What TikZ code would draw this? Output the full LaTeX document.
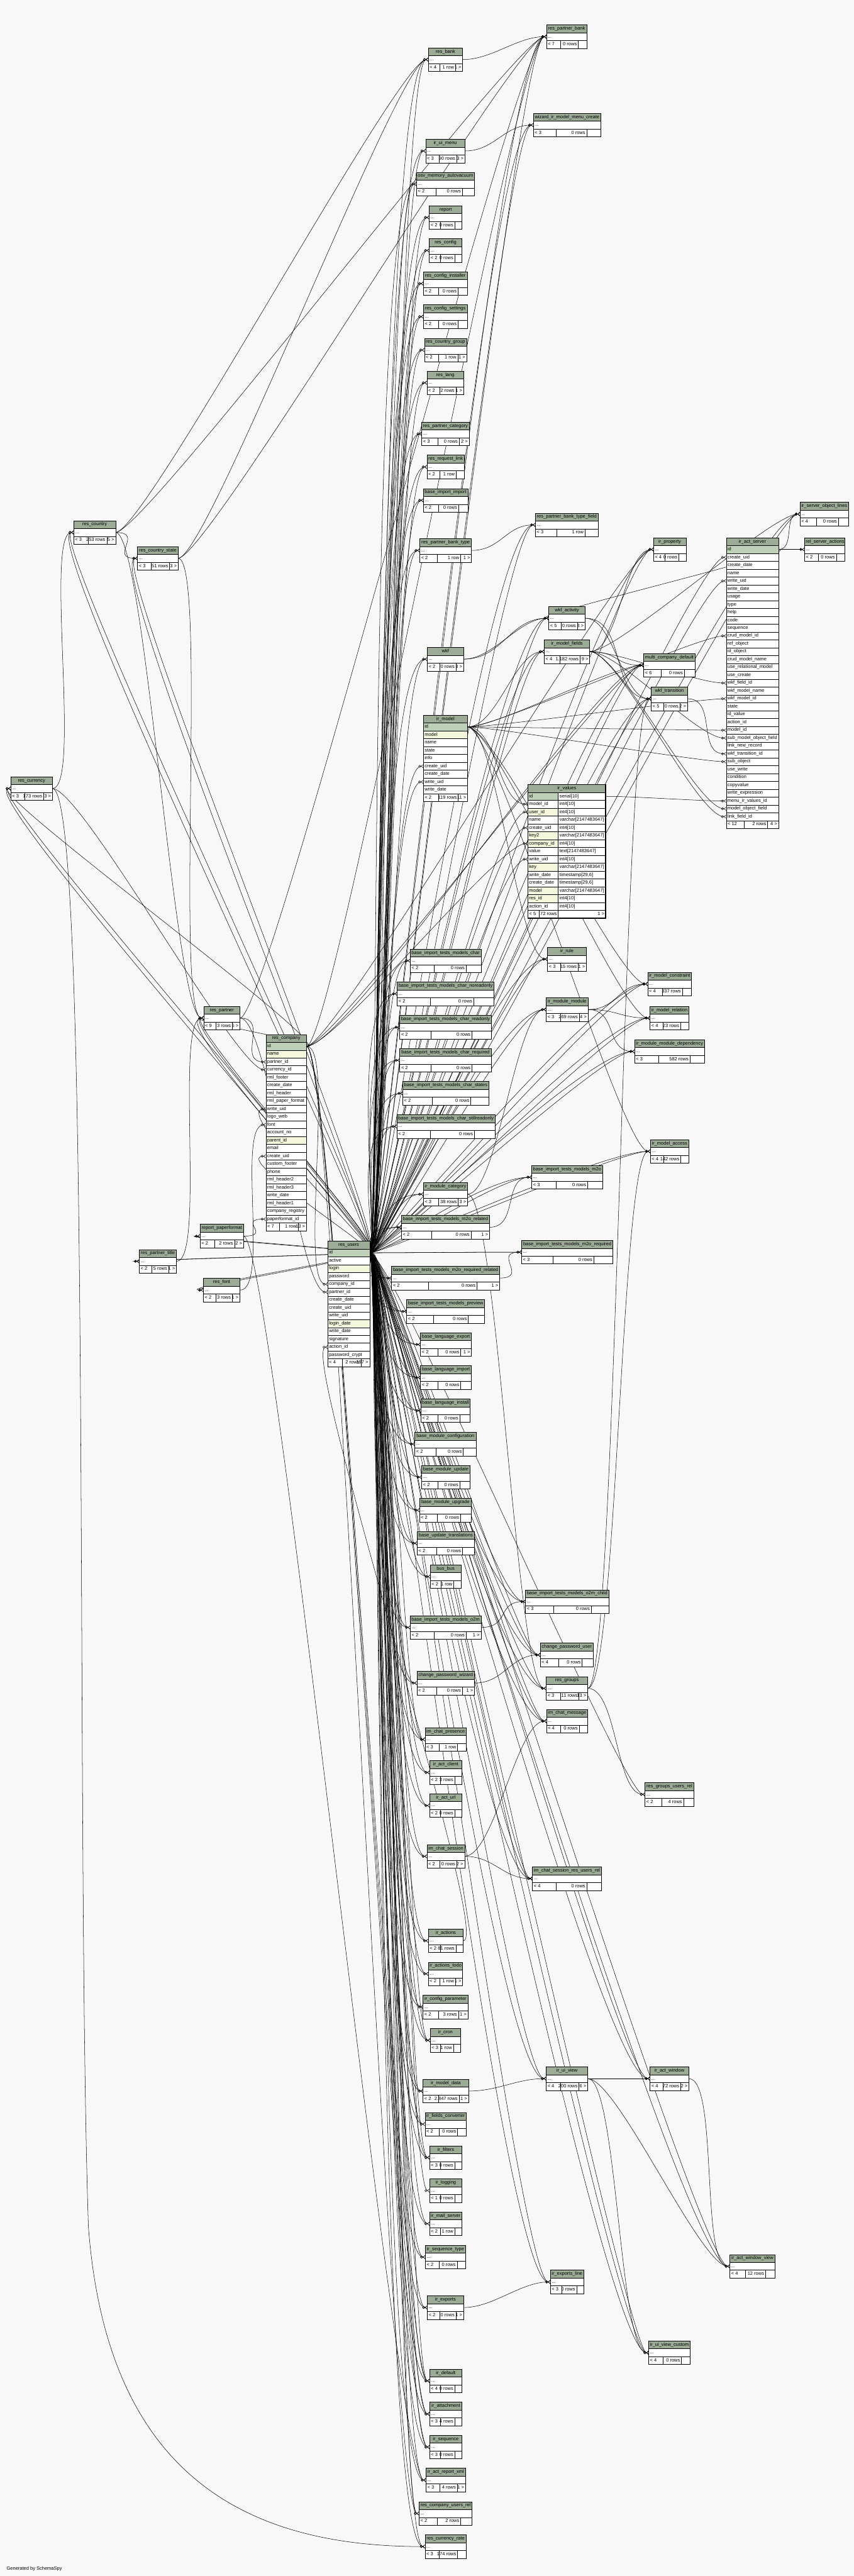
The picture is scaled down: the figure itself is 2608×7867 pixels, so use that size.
\documentclass[tikz,border=0pt]{standalone}
\usepackage{fontspec}
\setmainfont{Liberation Sans}
\usetikzlibrary{arrows.meta,positioning}
\definecolor{canvasgrey}{RGB}{248,248,248}
\definecolor{headgreen}{RGB}{155,171,150}
\definecolor{pkgreen}{RGB}{190,209,184}
\definecolor{ixyellow}{RGB}{245,247,220}
\pgfdeclarelayer{canvas}
\pgfdeclarelayer{edges}
\pgfsetlayers{canvas,edges,main}
\newcommand{\tabfont}{\fontsize{7.2}{8.6}\selectfont}

% footer row: name, x, y, width, parents, rows, children
\newcommand{\dbfoot}[7]{%
  \pgfmathsetmacro{\tbf}{#4*0.5-4}%
  \pgfmathsetmacro{\tba}{max(28,0.34*#4)}%
  \pgfmathsetmacro{\tbc}{max(22,0.21*#4)}%
  \node[trow, text width=\tbf pt, anchor=north west] (#1-f) at (#2,#3) {};
  \draw[tline] ([xshift=\tba*0.5pt]#1-f.north west) -- ([xshift=\tba*0.5pt]#1-f.south west);
  \draw[tline] ([xshift=-\tbc*0.5pt]#1-f.north east) -- ([xshift=-\tbc*0.5pt]#1-f.south east);
  \node[tcell, anchor=west] (#1-fl) at (#1-f.west) {#5};
  \node[tcell, anchor=east] (#1-fm) at ([xshift=-\tbc*0.5pt]#1-f.east) {#6};
  \node[tcell, anchor=east] (#1-fr) at (#1-f.east) {#7};
}
% collapsed table: name, x, y, width, parents, rows, children
\newcommand{\dbtable}[7]{%
  \pgfmathsetmacro{\tbw}{#4*0.5-4}%
  \node[thead, text width=\tbw pt, anchor=north west] (#1) at (#2,#3) {\detokenize{#1}};
  \node[trow, text width=\tbw pt, below=0pt of #1] (#1-r) {...};
  \dbfoot{#1}{#2}{#3+48}{#4}{#5}{#6}{#7}%
}
% table with columns: name, x, y, width, columns, count, parents, rows, children
\newcommand{\dbfull}[9]{%
  \pgfmathsetmacro{\tbw}{#4*0.5-4}%
  \node[thead, text width=\tbw pt, anchor=north west] (#1) at (#2,#3) {\detokenize{#1}};
  \foreach \col/\sty [count=\k] in {#5}{%
    \node[\sty, text width=\tbw pt, anchor=north west] (#1-\col) at (#2,#3+24*\k) {\detokenize\expandafter{\col}};}
  \dbfoot{#1}{#2}{#3+24*#6+24}{#4}{#7}{#8}{#9}%
}

\begin{document}
\begin{tikzpicture}[
x=0.5pt, y=-0.5pt,
thead/.style={draw, fill=headgreen, line width=0.5pt, inner xsep=2pt, inner ysep=0pt, minimum height=12pt, outer sep=0pt, align=center, text height=5.2pt, text depth=1.6pt, font=\tabfont},
trow/.style={thead, fill=white, align=left},
pkrow/.style={trow, fill=pkgreen},
ixrow/.style={trow, fill=ixyellow},
tcell/.style={inner xsep=2pt, inner ysep=0pt, text height=5.2pt, text depth=1.6pt, font=\tabfont},
tline/.style={line width=0.5pt},
fk/.style={line width=0.5pt, -{Circle[open,length=4pt] Straight Barb[reversed,length=3pt,width=5pt]}},
rel/.style={to path={.. controls +(#1,0) and +(-#1,0) .. (\tikztotarget)}},
rel/.default=90
]
\useasboundingbox (0,0) rectangle (2608,7867);
\begin{pgfonlayer}{canvas}
\fill[canvasgrey] (0,0) rectangle (2608,7867);
\end{pgfonlayer}

\dbtable{res_bank}{1308}{146}{105}{< 4}{1 row}{1 >}
\dbtable{ir_ui_menu}{1300}{425}{120}{< 3}{90 rows}{3 >}
\dbtable{osv_memory_autovacuum}{1272}{526}{177}{< 2}{0 rows}{}
\dbtable{report}{1311}{628}{100}{< 2}{0 rows}{}
\dbtable{res_config}{1311}{729}{100}{< 2}{0 rows}{}
\dbtable{res_config_installer}{1293}{830}{134}{< 2}{0 rows}{}
\dbtable{res_config_settings}{1293}{931}{134}{< 2}{0 rows}{}
\dbtable{res_country_group}{1296}{1033}{129}{< 2}{1 row}{1 >}
\dbtable{res_lang}{1304}{1133}{112}{< 2}{2 rows}{1 >}
\dbtable{res_partner_category}{1288}{1289}{145}{< 3}{0 rows}{2 >}
\dbtable{res_request_link}{1304}{1390}{113}{< 2}{1 row}{}
\dbtable{base_import_import}{1293}{1492}{136}{< 2}{0 rows}{}
\dbtable{res_partner_bank_type}{1282}{1645}{158}{< 2}{1 row}{1 >}
\dbtable{wkf}{1305}{1977}{111}{< 2}{0 rows}{3 >}
\dbfull{ir_model}{1293}{2184}{135}{id/pkrow, model/ixrow, name/trow, state/trow, info/trow, create_uid/trow, create_date/trow, write_uid/trow, write_date/trow}{9}{< 2}{119 rows}{11 >}
\dbtable{base_import_tests_models_char}{1253}{2898}{216}{< 2}{0 rows}{}
\dbtable{base_import_tests_models_char_noreadonly}{1213}{2999}{296}{< 2}{0 rows}{}
\dbtable{base_import_tests_models_char_readonly}{1221}{3101}{279}{< 2}{0 rows}{}
\dbtable{base_import_tests_models_char_required}{1221}{3202}{279}{< 2}{0 rows}{}
\dbtable{base_import_tests_models_char_states}{1230}{3303}{263}{< 2}{0 rows}{}
\dbtable{base_import_tests_models_char_stillreadonly}{1212}{3404}{300}{< 2}{0 rows}{}
\dbtable{ir_module_category}{1293}{3611}{135}{< 3}{38 rows}{3 >}
\dbtable{base_import_tests_models_m2o_related}{1226}{3712}{269}{< 2}{0 rows}{1 >}
\dbtable{base_import_tests_models_m2o_required_related}{1196}{3867}{330}{< 2}{0 rows}{1 >}
\dbtable{base_import_tests_models_preview}{1242}{3969}{238}{< 2}{0 rows}{}
\dbtable{base_language_export}{1284}{4070}{156}{< 2}{0 rows}{1 >}
\dbtable{base_language_import}{1284}{4171}{156}{< 2}{0 rows}{}
\dbtable{base_language_install}{1285}{4272}{151}{< 2}{0 rows}{}
\dbtable{base_module_configuration}{1267}{4374}{187}{< 2}{0 rows}{}
\dbtable{base_module_update}{1288}{4475}{147}{< 2}{0 rows}{}
\dbtable{base_module_upgrade}{1281}{4576}{159}{< 2}{0 rows}{}
\dbtable{base_update_translations}{1274}{4677}{175}{< 2}{0 rows}{}
\dbtable{bus_bus}{1314}{4779}{94}{< 2}{1 row}{}
\dbtable{base_import_tests_models_o2m}{1253}{4934}{216}{< 2}{0 rows}{1 >}
\dbtable{change_password_wizard}{1273}{5104}{176}{< 2}{0 rows}{1 >}
\dbtable{im_chat_presence}{1298}{5276}{126}{< 3}{1 row}{}
\dbtable{ir_act_client}{1312}{5377}{99}{< 2}{3 rows}{}
\dbtable{ir_act_url}{1312}{5478}{99}{< 2}{0 rows}{}
\dbtable{im_chat_session}{1304}{5633}{115}{< 2}{0 rows}{2 >}
\dbtable{ir_actions}{1308}{5891}{107}{< 2}{81 rows}{}
\dbtable{ir_actions_todo}{1308}{5992}{105}{< 2}{1 row}{1 >}
\dbtable{ir_config_parameter}{1292}{6093}{137}{< 2}{3 rows}{1 >}
\dbtable{ir_cron}{1314}{6195}{93}{< 3}{1 row}{}
\dbtable{ir_model_data}{1292}{6350}{139}{< 2}{2.847 rows}{1 >}
\dbtable{ir_fields_converter}{1298}{6451}{126}{< 2}{0 rows}{}
\dbtable{ir_filters}{1312}{6553}{99}{< 3}{0 rows}{}
\dbtable{ir_logging}{1312}{6654}{99}{< 1}{0 rows}{}
\dbtable{ir_mail_server}{1312}{6755}{99}{< 2}{1 row}{}
\dbtable{ir_sequence_type}{1299}{6857}{123}{< 2}{0 rows}{}
\dbtable{ir_exports}{1305}{7011}{111}{< 2}{0 rows}{1 >}
\dbtable{ir_default}{1312}{7235}{99}{< 4}{0 rows}{}
\dbtable{ir_attachment}{1312}{7336}{99}{< 3}{4 rows}{}
\dbtable{ir_sequence}{1312}{7437}{99}{< 3}{0 rows}{}
\dbtable{ir_act_report_xml}{1301}{7538}{121}{< 3}{4 rows}{1 >}
\dbtable{res_company_users_rel}{1280}{7640}{161}{< 2}{2 rows}{}
\dbtable{res_currency_rate}{1298}{7741}{126}{< 3}{174 rows}{}

\dbtable{res_partner_bank}{1669}{76}{123}{< 7}{0 rows}{}
\dbtable{wizard_ir_model_menu_create}{1629}{346}{206}{< 3}{0 rows}{}
\dbtable{res_partner_bank_type_field}{1635}{1567}{192}{< 3}{1 row}{}
\dbtable{wkf_activity}{1676}{1852}{111}{< 5}{0 rows}{3 >}
\dbtable{ir_model_fields}{1662}{1954}{139}{< 4}{1.182 rows}{9 >}
\dbtable{ir_rule}{1672}{2893}{119}{< 3}{15 rows}{1 >}
\dbtable{ir_module_module}{1668}{3047}{128}{< 3}{269 rows}{4 >}
\dbtable{base_import_tests_models_m2o}{1624}{3559}{216}{< 3}{0 rows}{}
\dbtable{base_import_tests_models_m2o_required}{1593}{3788}{279}{< 3}{0 rows}{}
\dbtable{base_import_tests_models_o2m_child}{1605}{4855}{254}{< 3}{0 rows}{}
\dbtable{change_password_user}{1650}{5018}{162}{< 4}{0 rows}{}
\dbtable{res_groups}{1668}{5120}{127}{< 3}{11 rows}{13 >}
\dbtable{im_chat_message}{1669}{5220}{126}{< 4}{0 rows}{}
\dbtable{im_chat_session_res_users_rel}{1626}{5701}{210}{< 4}{0 rows}{}
\dbtable{ir_ui_view}{1668}{6312}{127}{< 4}{200 rows}{6 >}
\dbtable{ir_exports_line}{1681}{6933}{102}{< 3}{0 rows}{}

\dbtable{ir_property}{1996}{1642}{99}{< 4}{0 rows}{}
\dbtable{multi_company_default}{1966}{1996}{157}{< 6}{0 rows}{}
\dbtable{wkf_transition}{1989}{2098}{111}{< 5}{0 rows}{2 >}
\dbtable{ir_model_constraint}{1978}{2969}{134}{< 4}{337 rows}{}
\dbtable{ir_model_relation}{1985}{3073}{119}{< 4}{23 rows}{}
\dbtable{ir_module_module_dependency}{1938}{3175}{214}{< 3}{582 rows}{}
\dbtable{ir_model_access}{1986}{3480}{118}{< 4}{142 rows}{}
\dbtable{res_groups_users_rel}{1970}{5444}{149}{< 2}{4 rows}{}
\dbtable{ir_act_window}{1985}{6312}{119}{< 4}{72 rows}{2 >}
\dbtable{ir_ui_view_custom}{1981}{7149}{127}{< 4}{0 rows}{}

\dbtable{ir_server_object_lines}{2443}{1534}{149}{< 4}{0 rows}{}
\dbfull{ir_act_server}{2218}{1642}{160}{id/pkrow, create_uid/trow, create_date/trow, name/trow, write_uid/trow, write_date/trow, usage/trow, type/trow, help/trow, code/trow, sequence/trow, crud_model_id/trow, ref_object/trow, id_object/trow, crud_model_name/trow, use_relational_model/trow, use_create/trow, wkf_field_id/trow, wkf_model_name/trow, wkf_model_id/trow, state/trow, id_value/trow, action_id/trow, model_id/trow, sub_model_object_field/trow, link_new_record/trow, wkf_transition_id/trow, sub_object/trow, use_write/trow, condition/trow, copyvalue/trow, write_expression/trow, menu_ir_values_id/trow, model_object_field/trow, link_field_id/trow}{35}{< 12}{2 rows}{4 >}
\dbtable{rel_server_actions}{2457}{1642}{123}{< 2}{0 rows}{}
\dbtable{ir_act_window_view}{2229}{6885}{138}{< 4}{12 rows}{}

\dbtable{res_country}{225}{1590}{128}{< 3}{253 rows}{5 >}
\dbtable{res_country_state}{420}{1669}{124}{< 3}{51 rows}{3 >}
\dbtable{res_currency}{33}{2372}{127}{< 3}{173 rows}{3 >}
\dbtable{res_partner}{622}{3073}{111}{< 9}{3 rows}{6 >}
\dbfull{res_company}{812}{3159}{124}{id/pkrow, name/ixrow, partner_id/trow, currency_id/trow, rml_footer/trow, create_date/trow, rml_header/trow, rml_paper_format/trow, write_uid/trow, logo_web/trow, font/trow, account_no/trow, parent_id/ixrow, email/trow, create_uid/trow, custom_footer/trow, phone/trow, rml_header2/trow, rml_header3/trow, write_date/trow, rml_header1/trow, company_registry/trow, paperformat_id/trow}{23}{< 7}{1 row}{13 >}
\dbtable{report_paperformat}{611}{3739}{133}{< 2}{2 rows}{2 >}
\dbtable{res_partner_title}{425}{3816}{114}{< 2}{5 rows}{1 >}
\dbtable{res_font}{621}{3904}{112}{< 2}{3 rows}{1 >}
\dbfull{res_users}{1001}{3790}{128}{id/pkrow, active/trow, login/ixrow, password/trow, company_id/trow, partner_id/trow, create_date/trow, create_uid/trow, write_uid/trow, login_date/ixrow, write_date/trow, signature/trow, action_id/trow, password_crypt/trow}{14}{< 4}{2 rows}{197 >}

\node[thead, text width=115pt, anchor=north west] (ir_values) at (1612,2396) {ir\_values};
\foreach \col/\typ/\sty [count=\k] in {id/serial[10]/pkrow, model_id/int4[10]/trow, user_id/int4[10]/ixrow, name/varchar[2147483647]/trow, create_uid/int4[10]/trow, key2/varchar[2147483647]/ixrow, company_id/int4[10]/ixrow, value/text[2147483647]/trow, write_uid/int4[10]/trow, key/varchar[2147483647]/ixrow, write_date/{timestamp[29,6]}/trow, create_date/{timestamp[29,6]}/trow, model/varchar[2147483647]/ixrow, res_id/int4[10]/ixrow, action_id/int4[10]/trow}{
  \node[\sty, text width=42.5pt, anchor=north west] (ir_values-\col) at (1612,2396+24*\k) {\detokenize\expandafter{\col}};
  \node[trow, text width=68.5pt, anchor=north west] (ir_values-\col-t) at (1705,2396+24*\k) {\typ};
}
\node[trow, text width=115pt, anchor=north west] (ir_values-f) at (1612,2780) {};
\draw[tline] (1646,2780) -- (1646,2804);
\draw[tline] (1705,2780) -- (1705,2804);
\node[tcell, anchor=west] (ir_values-fl) at (ir_values-f.west) {< 5};
\node[tcell, anchor=east] (ir_values-fm) at (1705,2792) {72 rows};
\node[tcell, anchor=east] (ir_values-fr) at (ir_values-f.east) {1 >};
\draw[line width=1.5pt] (ir_values.north west) rectangle (ir_values-f.south east);

\node[tcell, anchor=west] (credit) at (16,7845) {Generated by SchemaSpy};

\begin{pgfonlayer}{edges}
\foreach \tb in {res_bank, res_partner_bank, wizard_ir_model_menu_create, ir_ui_menu, osv_memory_autovacuum, report, res_config, res_config_installer, res_config_settings, res_country_group, res_lang, res_partner_category, res_request_link, base_import_import, res_partner_bank_type_field, res_partner_bank_type, ir_server_object_lines, ir_property, wkf_activity, ir_model_fields, wkf, multi_company_default, wkf_transition, ir_rule, base_import_tests_models_char, base_import_tests_models_char_noreadonly, base_import_tests_models_char_readonly, base_import_tests_models_char_required, base_import_tests_models_char_states, base_import_tests_models_char_stillreadonly, ir_model_constraint, ir_module_module, ir_model_relation, ir_module_module_dependency, ir_model_access, base_import_tests_models_m2o, ir_module_category, base_import_tests_models_m2o_related, base_import_tests_models_m2o_required, base_import_tests_models_m2o_required_related, base_import_tests_models_preview, base_language_export, base_language_import, base_language_install, base_module_configuration, base_module_update, base_module_upgrade, base_update_translations, bus_bus, base_import_tests_models_o2m_child, base_import_tests_models_o2m, change_password_user, change_password_wizard, res_groups, im_chat_message, im_chat_presence, ir_act_client, ir_act_url, im_chat_session, im_chat_session_res_users_rel, ir_actions, ir_actions_todo, ir_config_parameter, ir_cron, ir_ui_view, ir_act_window, ir_model_data, ir_fields_converter, ir_filters, ir_mail_server, ir_sequence_type, ir_exports_line, ir_act_window_view, ir_exports, ir_ui_view_custom, ir_default, ir_attachment, ir_sequence, ir_act_report_xml, res_currency_rate}{
  \draw[fk] (res_users-id.east) .. controls +(30,0) and +(-150,0) .. (\tb-r.west);
  \draw[fk] (res_users-id.east) .. controls +(50,0) and +(-100,0) .. (\tb-r.west);
}
\foreach \tb in {res_country, res_country_state, res_currency, res_partner, report_paperformat, res_partner_title, res_font}{
  \draw[fk] (res_users-id.east) .. controls +(60,0) and +(-120,0) .. (\tb-r.west);
  \draw[fk] (res_users-id.east) .. controls +(80,0) and +(-90,0) .. (\tb-r.west);
}
\foreach \tb in {ir_logging, res_groups_users_rel, res_company_users_rel, change_password_user, im_chat_message, im_chat_presence, im_chat_session_res_users_rel, ir_ui_view_custom, ir_cron, ir_filters, ir_default, res_partner}{
  \draw[fk] (res_users-id.east) .. controls +(70,0) and +(-70,0) .. (\tb-r.west);
}
\foreach \cl in {ir_model-create_uid, ir_model-write_uid, res_company-create_uid, res_company-write_uid, ir_act_server-create_uid, ir_act_server-write_uid, ir_values-user_id, ir_values-create_uid, ir_values-write_uid}{
  \draw[fk] (res_users-id.east) .. controls +(40,0) and +(-110,0) .. (\cl.west);
}
\draw[fk] (res_partner-r.east) to[rel] (res_partner_bank-r.west);
\draw[fk] (res_bank-r.east) to[rel] (res_partner_bank-r.west);
\draw[fk] (res_company-id.east) to[rel] (res_partner_bank-r.west);
\draw[fk] (res_country-r.east) to[rel] (res_partner_bank-r.west);
\draw[fk] (res_country_state-r.east) to[rel] (res_partner_bank-r.west);
\draw[fk] (res_country-r.east) to[rel] (res_bank-r.west);
\draw[fk] (res_country_state-r.east) to[rel] (res_bank-r.west);
\draw[fk] (ir_ui_menu-r.east) to[rel] (wizard_ir_model_menu_create-r.west);
\draw[fk] (res_partner_bank_type-r.east) to[rel] (res_partner_bank_type_field-r.west);
\draw[fk] (ir_act_server-id.east) to[rel=50] (ir_server_object_lines-r.west);
\draw[fk] (ir_model_fields-r.east) to[rel] (ir_server_object_lines-r.west);
\draw[fk] (ir_act_server-id.east) to[rel=40] (rel_server_actions-r.west);
\draw[fk] (ir_act_server-id.east) to[rel=60] (rel_server_actions-r.west);
\draw[fk] (res_company-id.east) to[rel] (ir_property-r.west);
\draw[fk] (ir_model_fields-r.east) to[rel] (ir_property-r.west);
\draw[fk] (wkf-r.east) to[rel] (wkf_activity-r.west);
\draw[fk] (wkf-r.east) to[rel=120] (wkf_activity-r.west);
\draw[fk] (ir_act_server-id.east) to[rel] (wkf_activity-r.west);
\draw[fk] (ir_model-id.east) to[rel] (ir_model_fields-r.west);
\draw[fk] (res_company-id.east) to[rel] (multi_company_default-r.west);
\draw[fk] (res_company-id.east) to[rel=130] (multi_company_default-r.west);
\draw[fk] (ir_model-id.east) to[rel] (multi_company_default-r.west);
\draw[fk] (ir_model_fields-r.east) to[rel] (multi_company_default-r.west);
\draw[fk] (wkf_activity-r.east) to[rel] (wkf_transition-r.west);
\draw[fk] (wkf_activity-r.east) to[rel=130] (wkf_transition-r.west);
\draw[fk] (res_groups-r.east) to[rel] (wkf_transition-r.west);
\draw[fk] (ir_model-id.east) to[rel] (ir_act_server-crud_model_id.west);
\draw[fk] (ir_model-id.east) to[rel] (ir_act_server-wkf_model_id.west);
\draw[fk] (ir_model-id.east) to[rel] (ir_act_server-model_id.west);
\draw[fk] (ir_model-id.east) to[rel] (ir_act_server-sub_object.west);
\draw[fk] (ir_model_fields-r.east) to[rel] (ir_act_server-wkf_field_id.west);
\draw[fk] (ir_model_fields-r.east) to[rel] (ir_act_server-sub_model_object_field.west);
\draw[fk] (ir_model_fields-r.east) to[rel] (ir_act_server-model_object_field.west);
\draw[fk] (ir_model_fields-r.east) to[rel] (ir_act_server-link_field_id.west);
\draw[fk] (wkf_transition-r.east) to[rel] (ir_act_server-wkf_transition_id.west);
\draw[fk] (ir_values-id-t.east) to[rel] (ir_act_server-menu_ir_values_id.west);
\draw[fk] (ir_model-id.east) to[rel] (ir_values-model_id.west);
\draw[fk] (res_company-id.east) to[rel] (ir_values-company_id.west);
\draw[fk] (ir_model-id.east) to[rel] (ir_rule-r.west);
\draw[fk] (ir_model-id.east) to[rel] (ir_model_constraint-r.west);
\draw[fk] (ir_module_module-r.east) to[rel] (ir_model_constraint-r.west);
\draw[fk] (ir_module_category-r.east) to[rel] (ir_module_module-r.west);
\draw[fk] (ir_model-id.east) to[rel] (ir_model_relation-r.west);
\draw[fk] (ir_module_module-r.east) to[rel] (ir_model_relation-r.west);
\draw[fk] (ir_module_module-r.east) to[rel] (ir_module_module_dependency-r.west);
\draw[fk] (ir_model-id.east) to[rel] (ir_model_access-r.west);
\draw[fk] (res_groups-r.east) to[rel] (ir_model_access-r.west);
\draw[fk] (base_import_tests_models_m2o_related-r.east) to[rel] (base_import_tests_models_m2o-r.west);
\draw[fk] (base_import_tests_models_m2o_required_related-r.east) to[rel] (base_import_tests_models_m2o_required-r.west);
\draw[fk] (base_import_tests_models_o2m-r.east) to[rel] (base_import_tests_models_o2m_child-r.west);
\draw[fk] (change_password_wizard-r.east) to[rel] (change_password_user-r.west);
\draw[fk] (ir_module_category-r.east) to[rel] (res_groups-r.west);
\draw[fk] (im_chat_session-r.east) to[rel] (im_chat_message-r.west);
\draw[fk] (res_groups-r.east) to[rel] (res_groups_users_rel-r.west);
\draw[fk] (im_chat_session-r.east) to[rel] (im_chat_session_res_users_rel-r.west);
\draw[fk] (ir_model_data-r.east) to[rel] (ir_ui_view-r.west);
\draw[fk] (ir_ui_view-r.east) to[rel] (ir_act_window-r.west);
\draw[fk] (ir_ui_view-r.east) to[rel=40] (ir_act_window-r.west);
\draw[fk] (ir_ui_view-r.east) to[rel] (ir_act_window_view-r.west);
\draw[fk] (ir_act_window-r.east) to[rel] (ir_act_window_view-r.west);
\draw[fk] (ir_ui_view-r.east) to[rel] (ir_ui_view_custom-r.west);
\draw[fk] (ir_exports-r.east) to[rel] (ir_exports_line-r.west);
\draw[fk] (res_company-id.east) to[rel] (ir_default-r.west);
\draw[fk] (res_company-id.east) to[rel] (ir_attachment-r.west);
\draw[fk] (res_company-id.east) to[rel] (ir_sequence-r.west);
\draw[fk] (report_paperformat-r.east) to[rel] (ir_act_report_xml-r.west);
\draw[fk] (res_company-id.east) to[rel] (res_company_users_rel-r.west);
\draw[fk] (res_currency-r.east) .. controls +(120,0) and (230,5600) .. (270,6800) .. controls (330,7600) and +(-500,0) .. (res_currency_rate-r.west);
\draw[fk] (res_company-id.east) to[rel] (res_partner-r.west);
\draw[fk] (res_country-r.east) to[rel] (res_partner-r.west);
\draw[fk] (res_country_state-r.east) to[rel] (res_partner-r.west);
\draw[fk] (res_partner_title-r.east) to[rel] (res_partner-r.west);
\draw[fk] (res_partner-r.east) to[rel] (res_company-partner_id.west);
\draw[fk] (res_currency-r.east) to[rel] (res_company-currency_id.west);
\draw[fk] (res_font-r.east) to[rel] (res_company-font.west);
\draw[fk] (report_paperformat-r.east) to[rel] (res_company-paperformat_id.west);
\draw[fk] (res_company-id.east) to[rel] (res_users-company_id.west);
\draw[fk] (res_partner-r.east) to[rel] (res_users-partner_id.west);
\draw[fk] (ir_actions-r.east) to[rel] (res_users-action_id.west);
\draw[fk] (res_currency-r.east) to[rel] (res_country-r.west);
\draw[fk] (res_country-r.east) to[rel] (res_country_state-r.west);
\draw[fk] (res_company-id.east) to[rel] (res_currency-r.west);
\end{pgfonlayer}
\end{tikzpicture}
\end{document}
